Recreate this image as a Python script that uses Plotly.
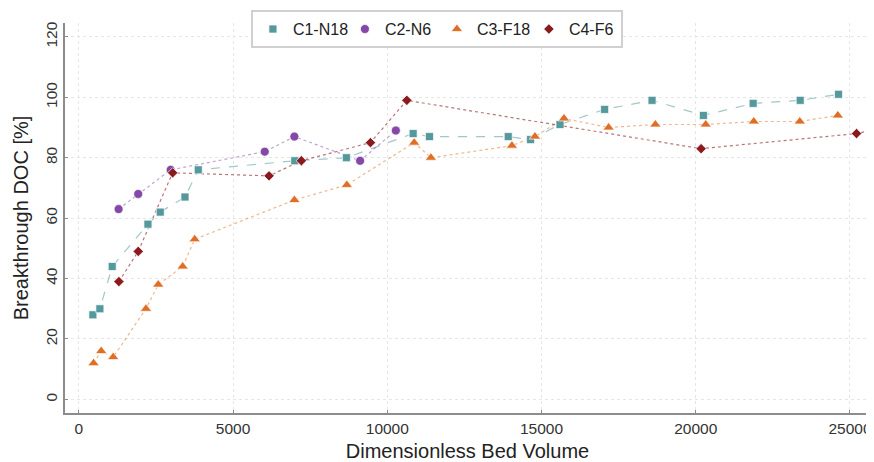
import plotly.graph_objects as go

# C1-N18
c1_x = [454, 681, 1081, 2239, 2638, 3440, 3871, 7000, 8674, 10838, 11367, 13921, 14645,
        15599, 17046, 18584, 20249, 21862, 23387, 24630]
c1_y = [28, 30, 44, 58, 62, 67, 76, 79, 80, 88, 87, 87, 86, 91, 96, 99, 94, 98, 99, 101]

# C2-N6
c2_x = [1288, 1924, 2976, 6026, 6987, 9118, 10277]
c2_y = [63, 68, 76, 82, 87, 79, 89]

# C3-F18
c3_x = [477, 724, 1113, 2174, 2573, 3365, 3754, 6987, 8687, 10871, 11413, 14041, 14787,
        15728, 17176, 18691, 20323, 21881, 23374, 24607]
c3_y = [12, 16, 14, 30, 38, 44, 53, 66, 71, 85, 80, 84, 87, 93, 90, 91, 91, 92, 92, 94]

# C4-F6
c4_x = [1298, 1924, 3041, 6166, 7214, 9453, 10634, 20174, 25214, 27000]
c4_y = [39, 49, 75, 74, 79, 85, 99, 83, 88, 92]

x_ticks = [0, 5000, 10000, 15000, 20000, 25000]
y_ticks = [0, 20, 40, 60, 80, 100, 120]

series = [
    ("C1-N18", c1_x, c1_y, "#55999c", "rgba(85,153,156,0.55)", "square", 8, "dash"),
    ("C2-N6", c2_x, c2_y, "#8548a8", "rgba(133,72,168,0.5)", "circle", 9, "dot"),
    ("C3-F18", c3_x, c3_y, "#df6f26", "rgba(223,111,38,0.5)", "triangle-up", 10, "dot"),
    ("C4-F6", c4_x, c4_y, "#8b1a1f", "rgba(139,26,31,0.6)", "diamond", 8, "dot"),
]

fig = go.Figure()
for name, xs, ys, col, lcol, sym, size, dash in series:
    fig.add_trace(go.Scatter(x=xs, y=ys, mode="lines", showlegend=False,
                             line=dict(color=lcol, width=1.2, dash=dash), hoverinfo="skip"))
for name, xs, ys, col, lcol, sym, size, dash in series:
    fig.add_trace(go.Scatter(x=xs, y=ys, mode="markers", name=name,
                             marker=dict(color=col, symbol=sym, size=size,
                                         line=dict(color="rgba(255,255,255,0.7)", width=1))))

axis_common = dict(showline=True, linecolor="#8c8c8c", linewidth=2, mirror=False,
                   showgrid=True, gridcolor="#e6e6e6", griddash="dot", gridwidth=1,
                   zeroline=False, ticks="inside", ticklen=3, tickcolor="#8c8c8c",
                   automargin=False,
                   tickfont=dict(family="Liberation Sans, Arial", size=15.5, color="#333333"),
                   title_font=dict(family="Liberation Sans, Arial", size=20, color="#222222"))

fig.update_xaxes(range=[-450, 25650], tickvals=x_ticks, ticktext=[str(v) for v in x_ticks],
                 title_text="Dimensionless Bed Volume", title_standoff=9, **axis_common)
fig.update_yaxes(range=[-4.5, 124.6], tickvals=y_ticks, ticktext=[str(v) for v in y_ticks],
                 tickangle=-90, title_text="Breakthrough DOC [%]", title_standoff=9,
                 **axis_common)

# page body adds an 8px offset, so the figure is drawn 8px smaller and shifted
fig.update_layout(
    width=866, height=454,
    margin=dict(l=57, r=4, t=15, b=49, autoexpand=False),
    plot_bgcolor="white", paper_bgcolor="white",
    font=dict(family="Liberation Sans, Arial", color="#222222"),
    legend=dict(orientation="h", x=0.462, xanchor="center", y=1.033, yanchor="top",
                bordercolor="#d0d0d0", borderwidth=2, bgcolor="white",
                font=dict(size=16, color="#222222"), itemwidth=30, entrywidth=47),
)

fig.write_html("out.html")
